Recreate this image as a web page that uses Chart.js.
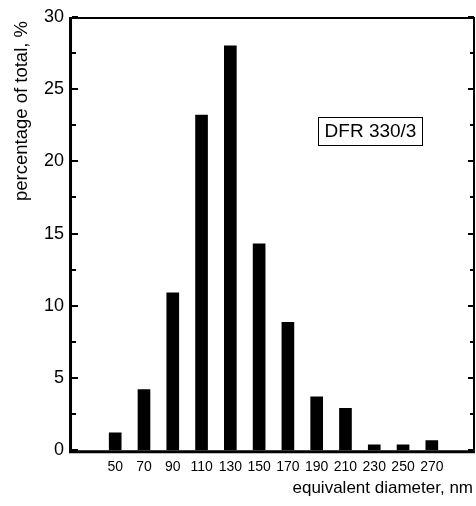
<!DOCTYPE html>
<html>
<head>
<meta charset="utf-8">
<script src="https://cdn.jsdelivr.net/npm/chart.js@4/dist/chart.umd.min.js"></script>
<style>
  html, body { margin: 0; padding: 0; background: #fff; }
  canvas { display: block; }
</style>
</head>
<body>
<canvas id="chart" width="476" height="506"></canvas>
<script>
// diameter classes (nm) and share of particles (%)
const diameters = [50, 70, 90, 110, 130, 150, 170, 190, 210, 230, 250, 270];
const percentages = [1.2, 4.2, 10.9, 23.2, 28.0, 14.3, 8.85, 3.7, 2.9, 0.37, 0.37, 0.67];
const yTicks = [0, 5, 10, 15, 20, 25, 30];
const yMinorTicks = [2.5, 7.5, 12.5, 17.5, 22.5, 27.5];
const sampleLabel = 'DFR 330/3';
const xTitle = 'equivalent diameter, nm';
const yTitle = 'percentage of total, %';

const FONT = 'Arial, "Liberation Sans", sans-serif';

// frame, inward ticks, titles and the sample box
const decorations = {
  id: 'decorations',
  beforeDraw(chart) {
    const ctx = chart.ctx;
    ctx.save();
    ctx.fillStyle = '#fff';
    ctx.fillRect(0, 0, chart.width, chart.height);
    ctx.restore();
  },
  afterDraw(chart) {
    const ctx = chart.ctx;
    const { left, right, top, bottom } = chart.chartArea;
    const y = chart.scales.y;
    ctx.save();
    ctx.strokeStyle = '#000';

    // top and right edges
    ctx.lineWidth = 2;
    ctx.beginPath();
    ctx.moveTo(left, top + 1);
    ctx.lineTo(right - 1, top + 1);
    ctx.lineTo(right - 1, bottom);
    ctx.stroke();

    // left and bottom axes
    ctx.lineWidth = 3;
    ctx.beginPath();
    ctx.moveTo(left - 1.5, top);
    ctx.lineTo(left - 1.5, bottom + 1.5);
    ctx.lineTo(right, bottom + 1.5);
    ctx.stroke();

    // inward tick marks on both vertical axes
    ctx.lineWidth = 2;
    const tick = (v, len) => {
      const py = Math.round(y.getPixelForValue(v));
      ctx.beginPath();
      ctx.moveTo(left, py);
      ctx.lineTo(left + len, py);
      ctx.moveTo(right - 1, py);
      ctx.lineTo(right - 1 - len, py);
      ctx.stroke();
    };
    yTicks.forEach(v => tick(v, 6));
    yMinorTicks.forEach(v => tick(v, 4));

    ctx.fillStyle = '#000';
    // x title
    ctx.font = '17px ' + FONT;
    ctx.textAlign = 'right';
    ctx.textBaseline = 'alphabetic';
    ctx.fillText(xTitle, 473, 493);

    // y title
    ctx.save();
    ctx.translate(27, 111);
    ctx.rotate(-Math.PI / 2);
    ctx.font = '18.5px ' + FONT;
    ctx.textAlign = 'center';
    ctx.fillText(yTitle, 0, 0);
    ctx.restore();

    // sample label box
    ctx.lineWidth = 1;
    ctx.strokeRect(318.5, 117.5, 104, 28);
    ctx.font = '19px ' + FONT;
    ctx.textAlign = 'center';
    ctx.textBaseline = 'middle';
    ctx.fillText(sampleLabel, 370.5, 132);

    ctx.restore();
  }
};

new Chart(document.getElementById('chart'), {
  type: 'bar',
  data: {
    datasets: [{
      data: diameters.map((d, i) => ({ x: d, y: percentages[i] })),
      backgroundColor: '#000',
      borderWidth: 0,
      barThickness: 12,
    }],
  },
  options: {
    responsive: false,
    devicePixelRatio: 1,
    animation: false,
    layout: { padding: { left: 36, right: 1, top: 0, bottom: 21 } },
    plugins: {
      legend: { display: false },
      tooltip: { enabled: false },
    },
    scales: {
      x: {
        type: 'linear',
        min: 20,
        max: 300,
        offset: false,
        afterBuildTicks: (scale) => {
          scale.ticks = diameters.map(v => ({ value: v }));
        },
        grid: { display: false, drawTicks: false },
        border: { display: false },
        ticks: {
          color: '#000',
          font: { family: FONT, size: 14 },
          padding: 9,
          maxRotation: 0,
          autoSkip: false,
        },
      },
      y: {
        min: 0,
        max: 30,
        grid: { display: false, drawTicks: false },
        border: { display: false },
        afterBuildTicks: (scale) => {
          scale.ticks = yTicks.map(v => ({ value: v }));
        },
        ticks: {
          color: '#000',
          font: { family: FONT, size: 18, lineHeight: 1 },
          padding: 8,
        },
      },
    },
  },
  plugins: [decorations],
});
</script>
</body>
</html>
